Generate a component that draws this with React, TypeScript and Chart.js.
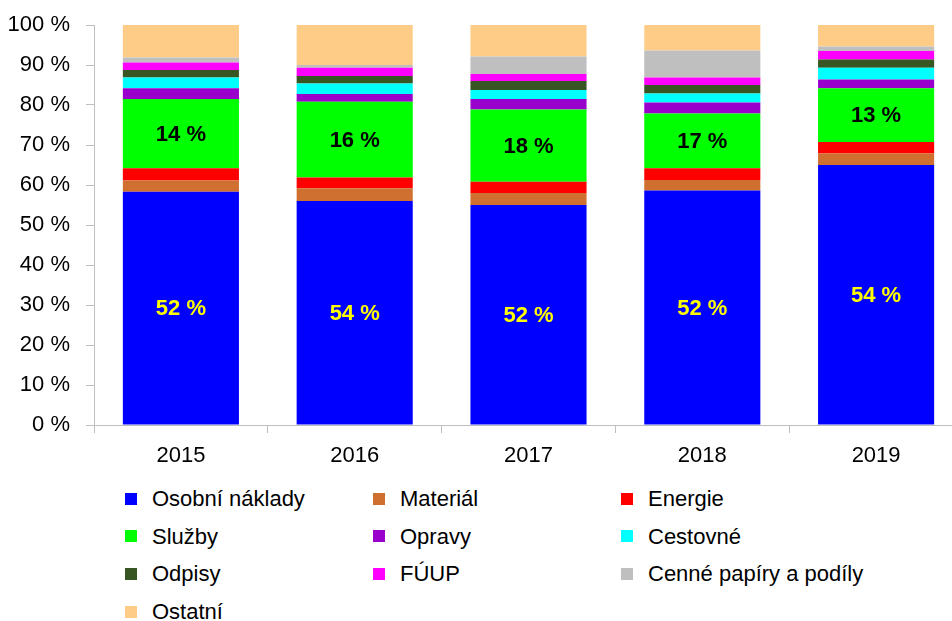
import { useEffect, useRef } from 'react';
import { Chart, registerables } from 'chart.js';

Chart.register(...registerables);

const years = ['2015', '2016', '2017', '2018', '2019'];
const seriesNames = [
  'Osobní náklady', 'Materiál', 'Energie', 'Služby', 'Opravy',
  'Cestovné', 'Odpisy', 'FÚUP', 'Cenné papíry a podíly', 'Ostatní',
];
const seriesColors = [
  '#0000FF', '#D07030', '#FF0000', '#00FF00', '#9900CC',
  '#00FFFF', '#375623', '#FF00FF', '#BFBFBF', '#FFCC88',
];
const osobniNaklady = [58.3, 56, 55, 58.6, 65];
const material = [2.8, 3.2, 3, 2.65, 2.9];
const energie = [3.1, 2.7, 2.8, 2.95, 2.85];
const sluzby = [17.3, 18.9, 18.1, 13.7, 13.45];
const opravy = [2.7, 1.95, 2.6, 2.7, 2.2];
const cestovne = [2.7, 2.65, 2.25, 2.3, 2.9];
const odpisy = [1.85, 1.85, 2.25, 2.1, 2.1];
const fuup = [1.85, 2.05, 1.75, 1.9, 2.1];
const cennePapiry = [1.3, 0.7, 4.35, 6.7, 1.1];
const ostatni = [8.1, 10, 7.9, 6.4, 5.4];
const osobniLabels = ['52 %', '54 %', '52 %', '52 %', '54 %'];
const sluzbyLabels = ['14 %', '16 %', '18 %', '17 %', '13 %'];

const seriesValues = [
  osobniNaklady, material, energie, sluzby, opravy,
  cestovne, odpisy, fuup, cennePapiry, ostatni,
];

const FONT = '"Liberation Sans", Arial, Helvetica, sans-serif';

const labelPlugin = {
  id: 'segLabels',
  afterDatasetsDraw(chart: any) {
    const ctx = chart.ctx;
    const specs = [
      { ds: 0, labels: osobniLabels, color: '#FFFF00' },
      { ds: 3, labels: sluzbyLabels, color: '#000000' },
    ];
    ctx.save();
    ctx.font = `bold 22px ${FONT}`;
    ctx.textAlign = 'center';
    ctx.textBaseline = 'middle';
    for (const s of specs) {
      const meta = chart.getDatasetMeta(s.ds);
      meta.data.forEach((el: any, i: number) => {
        const p = el.getProps(['x', 'y', 'base'], true);
        ctx.fillStyle = s.color;
        ctx.fillText(s.labels[i], p.x, (p.y + p.base) / 2 + 1);
      });
    }
    ctx.restore();
  },
};

export default function App() {
  const ref = useRef<HTMLCanvasElement | null>(null);

  useEffect(() => {
    if (!ref.current) return;
    const chart = new Chart(ref.current, {
      type: 'bar',
      data: {
        labels: years,
        datasets: seriesNames.map((name, i) => ({
          label: name,
          data: seriesValues[i],
          backgroundColor: seriesColors[i],
          borderWidth: 0,
          categoryPercentage: 1,
          barPercentage: 0.668,
        })),
      },
      options: {
        responsive: false,
        animation: false,
        events: [],
        layout: { padding: { top: 25, right: 17, left: 0, bottom: 0 } },
        plugins: {
          legend: { display: false },
          tooltip: { enabled: false },
        },
        scales: {
          x: {
            stacked: true,
            grid: {
              drawOnChartArea: false,
              drawTicks: true,
              tickLength: 8,
              color: '#BFBFBF',
              offset: true,
            },
            border: { color: '#BFBFBF' },
            ticks: {
              color: '#000',
              font: { family: FONT, size: 22 },
              padding: 10,
            },
            afterFit: (s: any) => { s.height = 45; },
          },
          y: {
            stacked: true,
            min: 0,
            max: 100,
            grid: {
              drawOnChartArea: false,
              drawTicks: true,
              tickLength: 8,
              color: '#BFBFBF',
            },
            border: { color: '#BFBFBF' },
            ticks: {
              stepSize: 10,
              color: '#000',
              font: { family: FONT, size: 22 },
              padding: 16,
              callback: (v: any) => `${v} %`,
            },
            afterFit: (s: any) => {
              s.width = 94;
              s.paddingTop = 0;
              s.paddingBottom = 0;
            },
          },
        },
      },
      plugins: [labelPlugin],
    });
    return () => chart.destroy();
  }, []);

  return (
    <div style={{ position: 'absolute', left: 0, top: 0, width: 952, height: 621, overflow: 'hidden', background: '#fff' }}>
      <canvas ref={ref} width={980} height={470} style={{ position: 'absolute', left: 0, top: 0, width: 980, height: 470 }} />
      {seriesNames.map((name, i) => {
        const col = i % 3;
        const row = Math.floor(i / 3);
        const sqX = [125, 373, 621][col];
        const top = 492.5 + row * 37.7;
        return (
          <div key={name}>
            <div style={{ position: 'absolute', left: sqX, top, width: 12, height: 12, background: seriesColors[i] }} />
            <div style={{ position: 'absolute', left: sqX + 27, top: top - 4.5, fontFamily: FONT, fontSize: 22, lineHeight: '22px', color: '#000', whiteSpace: 'nowrap' }}>
              {name}
            </div>
          </div>
        );
      })}
    </div>
  );
}
